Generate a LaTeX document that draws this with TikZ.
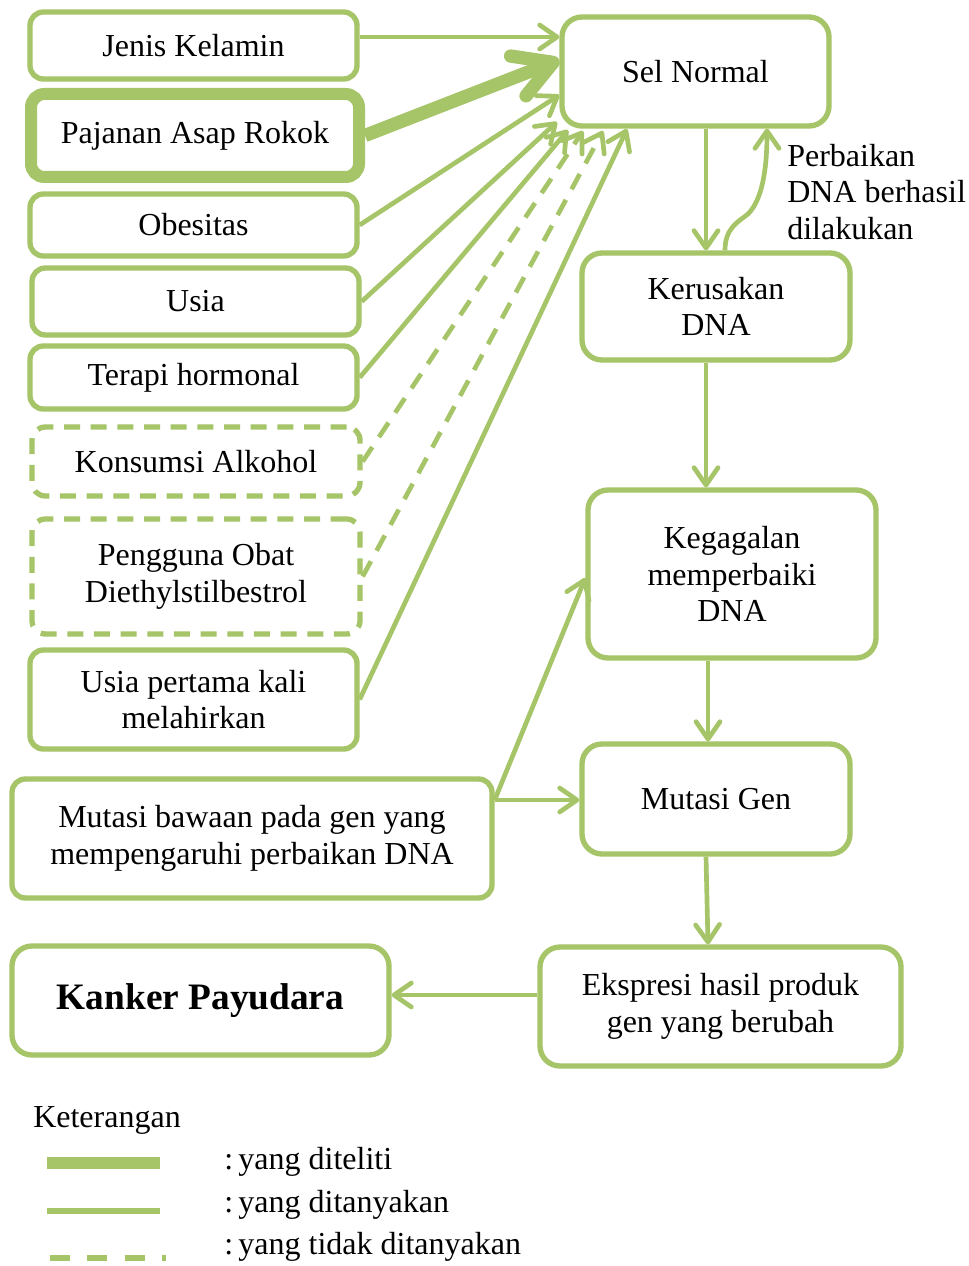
\documentclass[tikz,border=0pt]{standalone}
\usepackage{fontspec}
\setmainfont{Liberation Serif}
\usetikzlibrary{arrows.meta,calc}
\definecolor{gr}{RGB}{166,196,104}
\begin{document}
\begin{tikzpicture}[x=0.75pt,y=-0.75pt,
  txt/.style={font=\fontsize{24}{27.5}\selectfont},
  box/.style={txt, draw=gr, line width=4pt, rounded corners=10pt, inner sep=0pt, align=center},
  sz/.style 2 args={minimum width=#1*0.75pt, minimum height=#2*0.75pt},
  bigbox/.style={box, rounded corners=15pt},
  dbox/.style={box, dash pattern=on 12pt off 8pt},
  con/.style={draw=gr, line width=3.5pt, -{Straight Barb[length=13pt,width=18pt,round]}},
  dcon/.style={con, dash pattern=on 13pt off 9pt},
  thickcon/.style={draw=gr, line width=10pt, -{Straight Barb[length=28pt,width=32pt,round]}},
  leg/.style={txt, anchor=west, inner sep=0pt}
]
\useasboundingbox (0,0) rectangle (969,1266);
\fill[white] (0,0) rectangle (969,1266);

% left boxes
\node[box, sz={327}{67}] (jk) at (193.5,45.5) {Jenis Kelamin};
\node[box, line width=9pt, sz={328}{83}] (paj) at (195,135.5) {Pajanan Asap Rokok};
\node[box, sz={327}{62}] (ob) at (193.5,225) {Obesitas};
\node[box, sz={327}{67}] (us) at (195.5,301.5) {Usia};
\node[box, sz={327}{63}] (th) at (193.5,377.5) {Terapi hormonal};
\node[dbox, sz={328}{69}] (ka) at (196,461.5) {Konsumsi Alkohol};
\node[dbox, sz={328}{115}] (po) at (196,576.5) {Pengguna Obat\\Diethylstilbestrol};
\node[box, sz={327}{99}] (up) at (193.5,699.5) {Usia pertama kali\\melahirkan};
\node[box, sz={480}{119}] (mb) at (252,838.5) {Mutasi bawaan pada gen yang\\mempengaruhi perbaikan DNA};
\node[bigbox, sz={377}{109}, font=\fontsize{28}{32}\selectfont\bfseries] (kp) at (200.5,1000.5) {Kanker Payudara};

% right boxes
\node[bigbox, sz={267}{109}] (sn) at (695.5,71.5) {Sel Normal};
\node[bigbox, sz={268}{107}] (kd) at (716,306.5) {Kerusakan\\DNA};
\node[bigbox, sz={288}{168}] (kg) at (732,574) {Kegagalan\\memperbaiki\\DNA};
\node[bigbox, sz={268}{110}] (mg) at (716,799) {Mutasi Gen};
\node[bigbox, sz={361}{119}] (ek) at (720.5,1006.5) {Ekspresi hasil produk\\gen yang berubah};

\node[txt, anchor=west, inner sep=0pt, align=left] (pb) at (787,192) {Perbaikan\\DNA berhasil\\dilakukan};

% helper coordinates
\coordinate (x706) at (706,0);
\coordinate (x708) at (708,0);
\coordinate (x725) at (725,0);
\coordinate (x767) at (767,0);
\coordinate (y37) at (0,37);
\coordinate (y60) at (0,60);
\coordinate (y95) at (0,95);
\coordinate (y800) at (0,800);
\coordinate (y578) at (0,578);
\coordinate (y995) at (0,995);
\coordinate (tUs) at (557,122);
\coordinate (tTh) at (568,130);
\coordinate (tKa) at (583,131);
\coordinate (tPo) at (603,131);
\coordinate (tUp) at (627,129);

% factor arrows
\draw[con] (jk.east |- y37) -- (sn.west |- y37);
\draw[thickcon] (paj.east) -- (sn.west |- y60);
\draw[con] (ob.east) -- (sn.west |- y95);
\draw[con] (us.east) -- (tUs);
\draw[con] (th.east) -- (tTh);
\draw[dcon] (ka.east) -- (tKa);
\draw[dcon] (po.east) -- (tPo);
\draw[con] (up.east) -- (tUp);

% main chain
\draw[con] (sn.south -| x706) -- (kd.north -| x706);
\draw[con] (kd.north -| x725) .. controls (725,228) and (738,222) .. (748,214)
  .. controls (762,200) and (767,170) .. (sn.south -| x767);
\draw[con] (kd.south -| x706) -- (kg.north -| x706);
\draw[con] (kg.south -| x708) -- (mg.north -| x708);
\draw[con] (mg.south -| x706) -- (ek.north -| x708);
\draw[con] (ek.west |- y995) -- (kp.east |- y995);
\draw[con] (mb.east |- y800) -- (mg.west |- y800);
\draw[con] (mb.east |- y800) -- (kg.west |- y578);

% legend
\node[leg] (ket) at (33,1120) {Keterangan};
\coordinate (l1a) at (47,1163); \coordinate (l1b) at (160,1163);
\coordinate (l2a) at (47,1211); \coordinate (l2b) at (160,1211);
\coordinate (l3a) at (50,1258); \coordinate (l3b) at (166,1258);
\draw[gr, line width=9pt] (l1a) -- (l1b);
\draw[gr, line width=4.5pt] (l2a) -- (l2b);
\draw[gr, line width=4.5pt, dash pattern=on 15pt off 13pt] (l3a) -- (l3b);
\node[leg] (t1) at (224,1162) {:\,yang diteliti};
\node[leg] (t2) at (224,1205) {:\,yang ditanyakan};
\node[leg] (t3) at (224,1247) {:\,yang tidak ditanyakan};
\end{tikzpicture}
\end{document}
